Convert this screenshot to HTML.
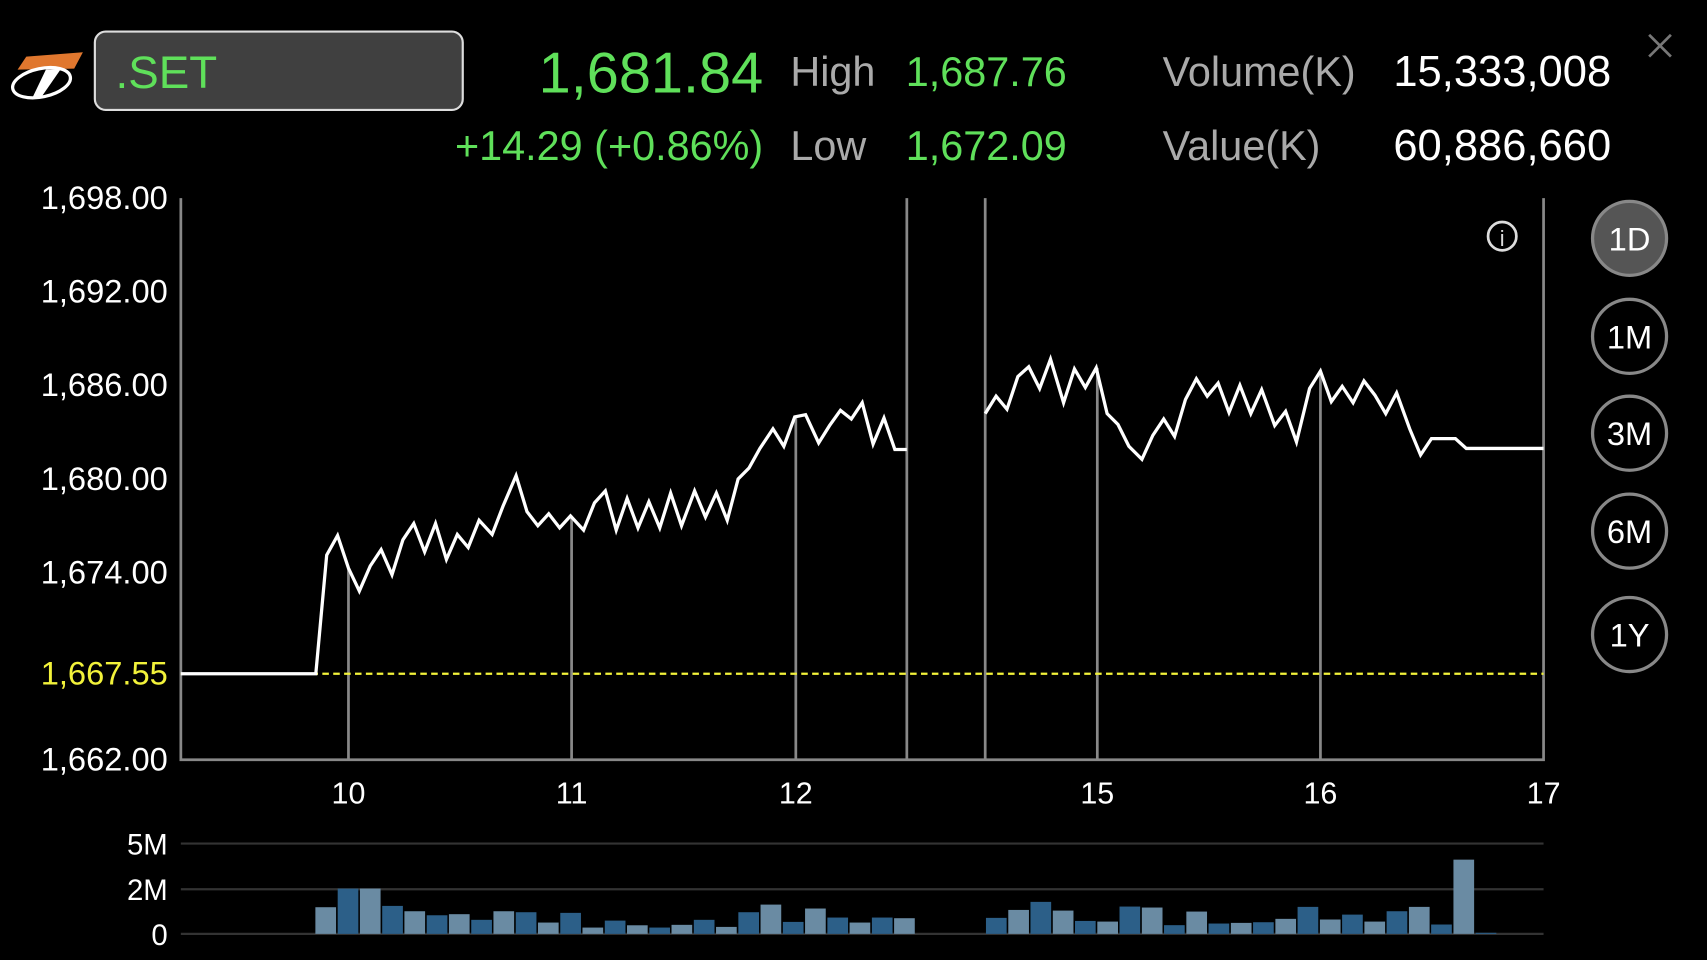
<!DOCTYPE html>
<html><head><meta charset="utf-8"><style>
html,body{margin:0;padding:0;background:#000;width:1707px;height:960px;overflow:hidden}
svg{display:block}
text{font-family:"Liberation Sans","DejaVu Sans",sans-serif}
</style></head><body>
<svg width="1707" height="960" viewBox="0 0 1568 882" xmlns="http://www.w3.org/2000/svg">
<rect width="1568" height="882" fill="#000"/>
<path d="M24 52 L76 48 L68 63 L16 64 Z" fill="#e0772e"/>
<ellipse cx="38" cy="76" rx="27" ry="13" fill="none" stroke="#fff" stroke-width="3" transform="rotate(-12 38 76)"/>
<path d="M42 64 L56 63 L38 89 L30 89 Z" fill="#fff"/>
<rect x="87" y="29" width="338" height="72" rx="10" fill="#404040" stroke="#ddd" stroke-width="2"/>
<text x="106" y="81" font-size="42" fill="#5fe05a">.SET</text>
<text x="701" y="85" font-size="53" fill="#5fe05a" text-anchor="end">1,681.84</text>
<text x="726" y="79" font-size="38" fill="#aaa">High</text>
<text x="832" y="79" font-size="38" fill="#5fe05a">1,687.76</text>
<text x="1068" y="79" font-size="38" fill="#aaa">Volume(K)</text>
<text x="1280" y="79" font-size="40" fill="#fff">15,333,008</text>
<text x="701" y="147" font-size="38" fill="#5fe05a" text-anchor="end">+14.29 (+0.86%)</text>
<text x="726" y="147" font-size="38" fill="#aaa">Low</text>
<text x="832" y="147" font-size="38" fill="#5fe05a">1,672.09</text>
<text x="1068" y="147" font-size="38" fill="#aaa">Value(K)</text>
<text x="1280" y="147" font-size="40" fill="#fff">60,886,660</text>
<path d="M1515 32 L1535 52 M1535 32 L1515 52" stroke="#777" stroke-width="2.5"/>
<g font-size="30" fill="#fff" text-anchor="end">
<text x="154" y="192">1,698.00</text>
<text x="154" y="278">1,692.00</text>
<text x="154" y="364">1,686.00</text>
<text x="154" y="450">1,680.00</text>
<text x="154" y="536">1,674.00</text>
<text x="154" y="629" fill="#f2f23a">1,667.55</text>
<text x="154" y="708">1,662.00</text>
</g>
<g stroke="#888" stroke-width="2.5" fill="none">
<path d="M166 182 V698 H1418 V182"/>
<path d="M833 182 V698 M905 182 V698"/>
<path d="M320 522 V698 M525 474 V698 M731 383 V698 M1008 338 V698 M1213 341 V698"/>
</g>
<line x1="166" y1="619" x2="1418" y2="619" stroke="#f2f23a" stroke-width="2" stroke-dasharray="6,4"/>
<g fill="none" stroke="#fff" stroke-width="3">
<polyline points="166,619 290,619 300,510 310,492 320,522 330,543 340,520 350,505 360,528 370,496 380,481 390,507 400,481 410,514 420,491 430,503 440,478 452,491 462,465 474,437 484,470 494,483 504,472 514,485 524,474 536,487 546,462 556,451 566,487 576,458 586,485 596,461 606,485 616,453 626,483 638,451 648,475 658,453 668,478 678,440 688,430 698,412 710,394 720,410 730,383 740,381 752,407 762,391 772,377 782,385 792,370 802,408 812,384 822,413 833,413"/>
<polyline points="905,380 915,364 925,376 935,346 945,337 955,357 965,330 977,370 987,339 997,356 1007,338 1017,380 1027,390 1037,410 1049,422 1059,400 1069,385 1079,401 1089,367 1099,348 1109,364 1119,352 1129,379 1139,354 1149,380 1159,358 1171,391 1181,378 1191,406 1203,357 1213,341 1223,369 1233,355 1243,370 1253,350 1263,363 1273,380 1283,361 1295,394 1305,418 1315,403 1337,403 1347,412 1418,412"/>
</g>
<g font-size="28" fill="#fff" text-anchor="middle">
<text x="320" y="738">10</text><text x="525" y="738">11</text><text x="731" y="738">12</text>
<text x="1008" y="738">15</text><text x="1213" y="738">16</text><text x="1418" y="738">17</text>
</g>
<circle cx="1380" cy="217" r="13" fill="none" stroke="#ddd" stroke-width="2.5"/>
<text x="1380" y="226" font-size="20" fill="#ddd" text-anchor="middle" font-family="Liberation Serif,serif">i</text>
<g stroke="#888" stroke-width="3">
<circle cx="1497" cy="219" r="34" fill="#555"/>
<circle cx="1497" cy="309" r="34" fill="none"/>
<circle cx="1497" cy="398" r="34" fill="none"/>
<circle cx="1497" cy="488" r="34" fill="none"/>
<circle cx="1497" cy="583" r="34" fill="none"/>
</g>
<g font-size="30" fill="#fff" text-anchor="middle">
<text x="1497" y="230">1D</text><text x="1497" y="320">1M</text><text x="1497" y="409">3M</text>
<text x="1497" y="499">6M</text><text x="1497" y="594">1Y</text>
</g>
<g stroke="#333" stroke-width="2">
<line x1="166" y1="775" x2="1418" y2="775"/><line x1="166" y1="817" x2="1418" y2="817"/><line x1="166" y1="858" x2="1418" y2="858"/>
</g>
<g font-size="27" fill="#fff" text-anchor="end">
<text x="154" y="785">5M</text><text x="154" y="827">2M</text><text x="154" y="868">0</text>
</g>
<g>
<rect x="289.6" y="833.5" width="19" height="24.5" fill="#6a8ba3"/>
<rect x="310.1" y="816.4" width="19" height="41.6" fill="#2c5f88"/>
<rect x="330.5" y="816.4" width="19" height="41.6" fill="#6a8ba3"/>
<rect x="351.0" y="832.3" width="19" height="25.7" fill="#2c5f88"/>
<rect x="371.4" y="837.2" width="19" height="20.8" fill="#6a8ba3"/>
<rect x="391.9" y="840.9" width="19" height="17.1" fill="#2c5f88"/>
<rect x="412.3" y="839.9" width="19" height="18.1" fill="#6a8ba3"/>
<rect x="432.8" y="845.1" width="19" height="12.9" fill="#2c5f88"/>
<rect x="453.2" y="837.2" width="19" height="20.8" fill="#6a8ba3"/>
<rect x="473.7" y="838.1" width="19" height="19.9" fill="#2c5f88"/>
<rect x="494.1" y="847.6" width="19" height="10.4" fill="#6a8ba3"/>
<rect x="514.6" y="838.7" width="19" height="19.3" fill="#2c5f88"/>
<rect x="535.0" y="852.2" width="19" height="5.8" fill="#6a8ba3"/>
<rect x="555.5" y="845.8" width="19" height="12.2" fill="#2c5f88"/>
<rect x="575.9" y="850.1" width="19" height="7.9" fill="#6a8ba3"/>
<rect x="596.4" y="852.2" width="19" height="5.8" fill="#2c5f88"/>
<rect x="616.8" y="849.7" width="19" height="8.3" fill="#6a8ba3"/>
<rect x="637.3" y="845.1" width="19" height="12.9" fill="#2c5f88"/>
<rect x="657.7" y="851.6" width="19" height="6.4" fill="#6a8ba3"/>
<rect x="678.2" y="838.1" width="19" height="19.9" fill="#2c5f88"/>
<rect x="698.6" y="831.1" width="19" height="26.9" fill="#6a8ba3"/>
<rect x="719.1" y="847.0" width="19" height="11.0" fill="#2c5f88"/>
<rect x="739.5" y="834.7" width="19" height="23.3" fill="#6a8ba3"/>
<rect x="760.0" y="843.0" width="19" height="15.0" fill="#2c5f88"/>
<rect x="780.4" y="847.6" width="19" height="10.4" fill="#6a8ba3"/>
<rect x="800.9" y="843.0" width="19" height="15.0" fill="#2c5f88"/>
<rect x="821.3" y="843.6" width="19" height="14.4" fill="#6a8ba3"/>
<rect x="905.7" y="843.3" width="19" height="14.7" fill="#2c5f88"/>
<rect x="926.2" y="836.0" width="19" height="22.0" fill="#6a8ba3"/>
<rect x="946.6" y="828.6" width="19" height="29.4" fill="#2c5f88"/>
<rect x="967.1" y="836.6" width="19" height="21.4" fill="#6a8ba3"/>
<rect x="987.5" y="846.1" width="19" height="11.9" fill="#2c5f88"/>
<rect x="1008.0" y="846.7" width="19" height="11.3" fill="#6a8ba3"/>
<rect x="1028.4" y="832.9" width="19" height="25.1" fill="#2c5f88"/>
<rect x="1048.9" y="833.8" width="19" height="24.2" fill="#6a8ba3"/>
<rect x="1069.3" y="850.0" width="19" height="8.0" fill="#2c5f88"/>
<rect x="1089.8" y="837.5" width="19" height="20.5" fill="#6a8ba3"/>
<rect x="1110.2" y="848.5" width="19" height="9.5" fill="#2c5f88"/>
<rect x="1130.7" y="847.9" width="19" height="10.1" fill="#6a8ba3"/>
<rect x="1151.1" y="847.3" width="19" height="10.7" fill="#2c5f88"/>
<rect x="1171.6" y="844.2" width="19" height="13.8" fill="#6a8ba3"/>
<rect x="1192.0" y="833.2" width="19" height="24.8" fill="#2c5f88"/>
<rect x="1212.5" y="844.8" width="19" height="13.2" fill="#6a8ba3"/>
<rect x="1232.9" y="840.3" width="19" height="17.7" fill="#2c5f88"/>
<rect x="1253.4" y="846.7" width="19" height="11.3" fill="#6a8ba3"/>
<rect x="1273.8" y="837.2" width="19" height="20.8" fill="#2c5f88"/>
<rect x="1294.3" y="833.2" width="19" height="24.8" fill="#6a8ba3"/>
<rect x="1314.7" y="849.4" width="19" height="8.6" fill="#2c5f88"/>
<rect x="1335.2" y="789.8" width="19" height="68.2" fill="#6a8ba3"/>
<rect x="1355.6" y="857" width="19" height="1" fill="#2c5f88"/>
</g>
</svg>
</body></html>
